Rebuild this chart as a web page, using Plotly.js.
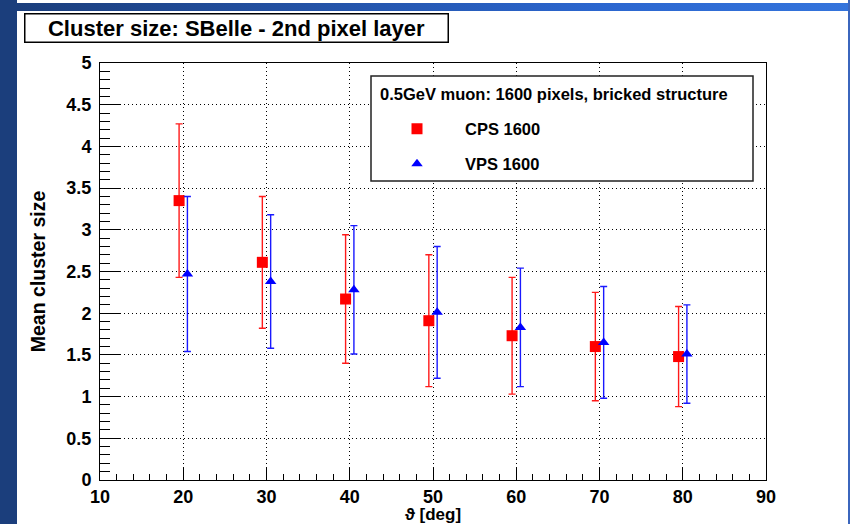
<!DOCTYPE html>
<html>
<head>
<meta charset="utf-8">
<script src="https://cdn.plot.ly/plotly-3.0.1.min.js"></script>
<style>
html,body{margin:0;padding:0;background:#fff;}
#wrap{position:relative;width:850px;height:524px;overflow:hidden;background:#fff;}
#bandL{position:absolute;left:0;top:0;width:17px;height:524px;background:#1b3e7c;}
#bandT{position:absolute;left:17px;top:3px;width:833px;height:8px;background:linear-gradient(to right,#1b3e7c,#2b66cf 70%,#3474dc);}
#bandR{position:absolute;left:848px;top:0;width:2px;height:524px;background:#3b66bd;}
#chart{position:absolute;left:0;top:0;width:850px;height:524px;}
</style>
</head>
<body>
<div id="wrap">
  <div id="bandL"></div>
  <div id="bandT"></div>
  <div id="bandR"></div>
  <div id="chart"></div>
</div>
<script>
// ---- data ----
const cpsTheta = [19.5, 29.5, 39.5, 49.5, 59.5, 69.5, 79.5];
const cpsMean  = [3.35, 2.61, 2.17, 1.91, 1.73, 1.60, 1.48];
const cpsErr   = [0.92, 0.79, 0.77, 0.79, 0.70, 0.65, 0.60];

const vpsTheta = [20.5, 30.5, 40.5, 50.5, 60.5, 70.5, 80.5];
const vpsMean  = [2.47, 2.38, 2.28, 2.01, 1.83, 1.65, 1.51];
const vpsErr   = [0.93, 0.80, 0.77, 0.79, 0.71, 0.67, 0.59];

const seriesNames = ['CPS 1600', 'VPS 1600'];
const chartTitle = 'Cluster size: SBelle - 2nd pixel layer';
const legendHeader = '0.5GeV muon: 1600 pixels, bricked structure';
const xTitle = '\u03D1 [deg]';
const yTitle = 'Mean cluster size';

// ---- layout helpers (pixel -> paper) ----
const W = 850, H = 524;
const M = {l: 100, r: 84, t: 63, b: 44};
const PW = W - M.l - M.r, PH = H - M.t - M.b;
const px = x => (x - M.l) / PW;
const py = y => (H - M.b - y) / PH;

const FONT = 'Liberation Sans, Arial, Helvetica, sans-serif';

const traces = [
  {
    x: cpsTheta, y: cpsMean, name: seriesNames[0], type: 'scatter', mode: 'markers',
    marker: {symbol: 'square', size: 11, color: '#ff0000'},
    error_y: {type: 'data', array: cpsErr, visible: true, color: '#ff1a1a', thickness: 1.4, width: 3.5},
    legend: 'legend'
  },
  {
    x: vpsTheta, y: vpsMean, name: seriesNames[1], type: 'scatter', mode: 'markers',
    marker: {symbol: 'triangle-up', size: 10, color: '#0000ff'},
    error_y: {type: 'data', array: vpsErr, visible: true, color: '#1a1aff', thickness: 1.4, width: 3.5},
    legend: 'legend2'
  }
];

const axisCommon = {
  ticks: 'inside', tickcolor: '#000', tickwidth: 1,
  showline: true, linecolor: '#000', linewidth: 1, mirror: true,
  showgrid: true, gridcolor: '#000', gridwidth: 1, griddash: '1px,3px',
  zeroline: false,
  tickfont: {family: FONT, size: 18, color: '#000', weight: 'bold'}
};

const legendCommon = {
  xanchor: 'left', yanchor: 'middle', x: px(369),
  bgcolor: 'rgba(0,0,0,0)', borderwidth: 0, itemwidth: 86,
  font: {family: FONT, size: 16.5, color: '#000', weight: 'bold'}
};

const layout = {
  width: W, height: H,
  margin: M,
  paper_bgcolor: 'rgba(0,0,0,0)',
  plot_bgcolor: '#ffffff',
  showlegend: true,
  xaxis: Object.assign({}, axisCommon, {
    range: [10, 90], tick0: 10, dtick: 10, ticklen: 12,
    minor: {ticks: 'inside', ticklen: 6, dtick: 2, tickcolor: '#000', showgrid: false},
    title: {text: xTitle, font: {family: FONT, size: 17, color: '#000', weight: 'bold'}, standoff: 7}
  }),
  yaxis: Object.assign({}, axisCommon, {
    range: [0, 5], tick0: 0, dtick: 0.5, ticklen: 20, ticklabelstandoff: 4,
    minor: {ticks: 'inside', ticklen: 10, dtick: 0.1, tickcolor: '#000', showgrid: false},
    title: {text: yTitle, font: {family: FONT, size: 19.5, color: '#000', weight: 'bold'}, standoff: 15}
  }),
  legend: Object.assign({}, legendCommon, {y: py(129)}),
  legend2: Object.assign({}, legendCommon, {y: py(164)}),
  shapes: [
    {type: 'rect', xref: 'paper', yref: 'paper', layer: 'above',
     x0: px(371), x1: px(753), y0: py(181), y1: py(76),
     line: {color: '#222', width: 1.5}, fillcolor: '#ffffff'}
  ],
  annotations: [
    {text: chartTitle, showarrow: false, xref: 'paper', yref: 'paper',
     x: px(24), y: py(12.5), xanchor: 'left', yanchor: 'top',
     width: 422, height: 27, borderpad: 0, borderwidth: 1.5, bordercolor: '#000', bgcolor: '#fff',
     font: {family: FONT, size: 22, color: '#000', weight: 'bold'}},
    {text: legendHeader, showarrow: false, xref: 'paper', yref: 'paper',
     x: px(378), y: py(94), xanchor: 'left', yanchor: 'middle',
     font: {family: FONT, size: 16.5, color: '#000', weight: 'bold'}}
  ]
};

Plotly.newPlot('chart', traces, layout, {staticPlot: true, displayModeBar: false});
</script>
</body>
</html>
